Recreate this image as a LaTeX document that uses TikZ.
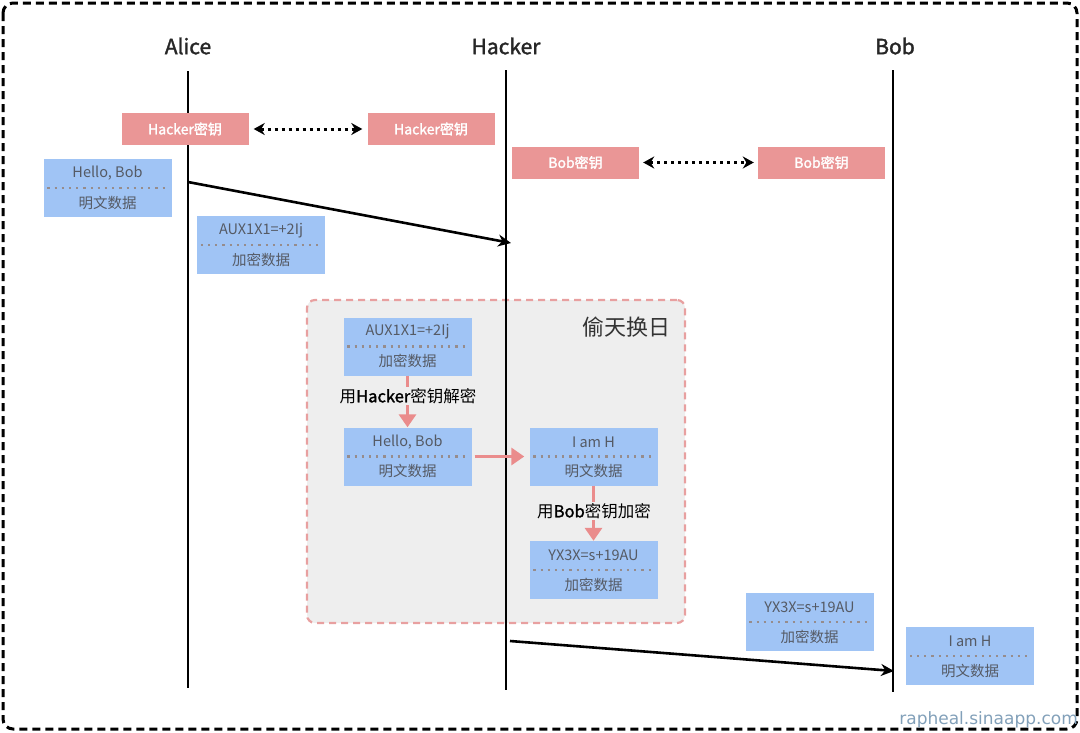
\documentclass[tikz,border=0pt]{standalone}
\usepackage{fontspec}
\setmainfont{Noto Sans CJK SC}[AutoFakeBold=1.6]
\newfontfamily\wmfont{DejaVu Sans}
\usetikzlibrary{arrows.meta}
\definecolor{keypink}{RGB}{234,150,150}
\definecolor{datablue}{RGB}{160,196,245}
\definecolor{txtgray}{RGB}{85,90,100}
\definecolor{sepgray}{RGB}{150,140,140}
\definecolor{flowpink}{RGB}{234,140,140}
\definecolor{dashpink}{RGB}{232,160,160}
\definecolor{swapgray}{RGB}{238,238,238}
\definecolor{wmblue}{RGB}{130,160,185}
\tikzset{
 keybox/.style={fill=keypink, text=white, minimum width=127pt, minimum height=32pt, inner sep=0pt, font=\fontsize{14}{14}\selectfont\bfseries},
 databox/.style={fill=datablue, minimum width=128pt, minimum height=58pt, inner sep=0pt},
 datatxt/.style={text=txtgray, inner sep=0pt, font=\fontsize{14.5}{14.5}\selectfont},
 sepline/.style={draw=sepgray, line width=2.2pt, dash pattern=on 2.2pt off 5pt},
 msg/.style={line width=2.6pt, -{Stealth[length=13pt,width=12pt]}},
 keylink/.style={line width=3pt, dash pattern=on 3pt off 4pt, {Stealth[length=11pt,width=12pt]}-{Stealth[length=11pt,width=12pt]}},
 flow/.style={draw=flowpink, line width=3.2pt, -{Triangle[length=13pt,width=17pt]}},
 lifeline/.style={line width=1.8pt},
 lane/.style={font=\fontsize{21}{21}\selectfont\bfseries, text=black!85},
 steplabel/.style={fill=swapgray, inner sep=1pt, font=\fontsize{16.5}{16.5}\selectfont},
}
\newcommand\dbox[5]{%
 \node[databox] (#1) at (#2,#3) {};
 \node[datatxt] (#1t) at ([yshift=-14.5pt]#1.north) {#4};
 \node[datatxt] (#1b) at ([yshift=14.5pt]#1.south) {#5};
 \draw[sepline] ([xshift=4pt]#1.west) -- ([xshift=-4pt]#1.east);
}
\begin{document}
\begin{tikzpicture}[x=1pt,y=-1pt]
\useasboundingbox (0,0) rectangle (1080,732);
% outer border
\draw[line width=3pt, dash pattern=on 8pt off 5pt, rounded corners=10pt] (3,3) rectangle (1077,729);
% swap region
\node[draw=dashpink, fill=swapgray, line width=2.2pt, dash pattern=on 7pt off 5pt, rounded corners=8pt, minimum width=378pt, minimum height=323pt, inner sep=0pt] (swap) at (496,461.5) {};
\node[font=\fontsize{22}{22}\selectfont, text=black!80] (swaplbl) at (626,327) {偷天换日};
% lanes
\node[lane] (alice) at (188,46) {Alice};
\node[lane] (hacker) at (506,46) {Hacker};
\node[lane] (bob) at (895,46) {Bob};
\coordinate (aTop) at (188,71);
\coordinate (aBot) at (188,688);
\coordinate (hTop) at (506,70);
\coordinate (hBot) at (506,690);
\coordinate (bTop) at (893,70);
\coordinate (bBot) at (893,692);
\draw[lifeline] (aTop) -- (aBot);
\draw[lifeline] (hTop) -- (hBot);
\draw[lifeline] (bTop) -- (bBot);
% keys
\node[keybox] (hk1) at (185,129) {Hacker密钥};
\node[keybox] (hk2) at (431,129) {Hacker密钥};
\node[keybox] (bk1) at (575.5,162.5) {Bob密钥};
\node[keybox] (bk2) at (821.5,162.5) {Bob密钥};
\draw[keylink] ([xshift=5pt]hk1.east) -- ([xshift=-5pt]hk2.west);
\draw[keylink] ([xshift=4pt]bk1.east) -- ([xshift=-4pt]bk2.west);
% data
\dbox{hello1}{107.5}{188}{Hello, Bob}{明文数据}
\dbox{aux1}{261}{245}{AUX1X1=+2Ij}{加密数据}
\dbox{aux2}{407.5}{346.5}{AUX1X1=+2Ij}{加密数据}
\dbox{hello2}{407.5}{456.5}{Hello, Bob}{明文数据}
\dbox{iamh1}{593.5}{456.5}{I am H}{明文数据}
\dbox{yx1}{593.5}{570}{YX3X=s+19AU}{加密数据}
\dbox{yx2}{809.5}{622}{YX3X=s+19AU}{加密数据}
\dbox{iamh2}{970}{656}{I am H}{明文数据}
% messages
\coordinate (m1s) at (188,182);
\coordinate (m1e) at (511,243);
\draw[msg] (m1s) -- (m1e);
\coordinate (m2s) at (510,641);
\coordinate (m2e) at (894,671);
\draw[msg] (m2s) -- (m2e);
% flows
\draw[flow] (aux2.south) -- (hello2.north);
\node[steplabel] (dec) at (408,396) {用\textbf{Hacker}密钥解密};
\draw[flow] ([xshift=3pt]hello2.east) -- ([xshift=-5pt]iamh1.west);
\draw[flow] (iamh1.south) -- (yx1.north);
\node[steplabel] (enc) at (594,511) {用\textbf{Bob}密钥加密};
% watermark
\node[wmblue, font=\wmfont\fontsize{17}{17}\selectfont, anchor=east, inner sep=0pt] (wm) at (1078,720) {rapheal.sinaapp.com};
\end{tikzpicture}
\end{document}
